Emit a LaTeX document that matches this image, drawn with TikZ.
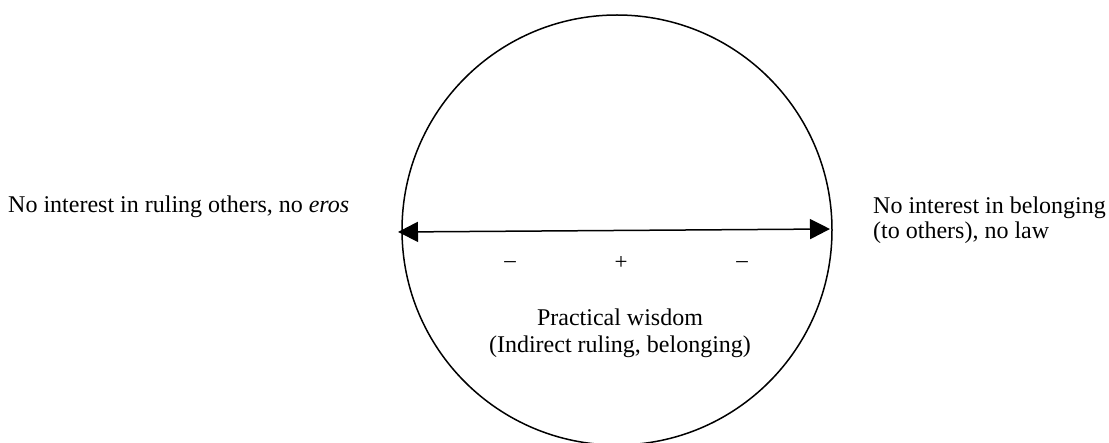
\documentclass[tikz,border=0pt]{standalone}
\usepackage{fontspec}
\setmainfont{Liberation Serif}
\usetikzlibrary{arrows.meta,positioning}

\begin{document}
\begin{tikzpicture}[x=1pt,y=-1pt,line cap=round,line join=round]
\useasboundingbox (0,0) rectangle (1109,443);
\tikzset{label/.style={inner sep=0pt,font=\fontsize{24}{27}\selectfont},sign/.style={inner sep=0pt,font=\fontsize{23}{24}\selectfont},ringline/.style={draw=black,line width=1.5pt},pole/.style={draw=black,line width=1.5pt,{Triangle[length=20pt,width=20pt]}-{Triangle[length=20pt,width=20pt]}}}
\node[ringline,circle,minimum size=430pt,inner sep=0pt] (ring) at (617,230) {};
\coordinate (lend) at (398,232); \coordinate (rend) at (830,229);
\draw[pole] (lend) -- (rend);
\node[label,anchor=base west] (ruling) at (8,213) {No interest in ruling others, no \textit{eros}};
\node[label,anchor=north west,align=left,font=\fontsize{24}{25}\selectfont] (belong) at (873,197) {No interest in belonging\\(to others), no law};
\node[sign] (minl) at (510,265) {–};
\node[sign] (plus) at (621,263) {+};
\node[sign] (minr) at (742,265) {–};
\node[label,anchor=base,align=center] (wisdom) at (620,353) {Practical wisdom\\(Indirect ruling, belonging)};
\end{tikzpicture}
\end{document}
